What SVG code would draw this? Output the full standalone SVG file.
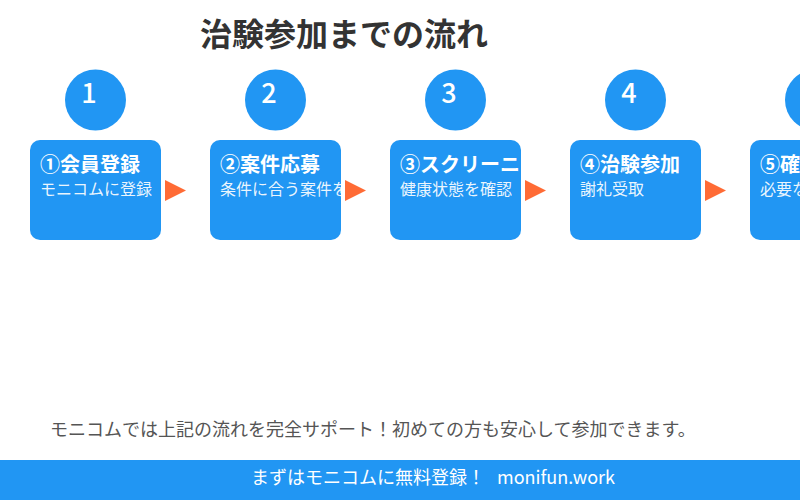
<svg xmlns="http://www.w3.org/2000/svg" width="800" height="500" viewBox="0 0 800 500">
<style>
.jp{font-family:"Noto Sans CJK JP","Noto Sans",sans-serif}
.circ{fill:#2196F3}
.num{font-family:"Noto Sans CJK JP","Noto Sans",sans-serif;font-size:27px;font-weight:500;fill:#fff;text-anchor:middle}
.box{fill:#2196F3}
.ttl{font-size:20px;font-weight:bold;fill:#fff}
.sub{font-size:16px;fill:#fff;fill-opacity:0.92}
.arr{fill:#FF6B35}
</style>
<defs>
<clipPath id="c2"><rect x="210" y="140" width="131" height="100" rx="10"/></clipPath>
</defs>
<rect width="800" height="500" fill="#fff"/>
<text class="jp" x="200" y="46" font-size="32" font-weight="bold" fill="#333">治験参加までの流れ</text>

<g id="step1">
<circle class="circ" cx="95.5" cy="100" r="30.5"/>
<text class="num" x="89" y="102.5">1</text>
<rect class="box" x="30" y="140" width="131" height="100" rx="10"/>
<text class="jp ttl" x="40" y="172">①会員登録</text>
<text class="jp sub" x="40" y="195">モニコムに登録</text>
</g>
<g id="step2">
<circle class="circ" cx="275.5" cy="100" r="30.5"/>
<text class="num" x="269" y="102.5">2</text>
<rect class="box" x="210" y="140" width="131" height="100" rx="10"/>
<g clip-path="url(#c2)">
<text class="jp ttl" x="220" y="172">②案件応募</text>
<text class="jp sub" x="220" y="195">条件に合う案件を</text>
</g>
</g>
<g id="step3">
<circle class="circ" cx="455.5" cy="100" r="30.5"/>
<text class="num" x="449" y="102.5">3</text>
<rect class="box" x="390" y="140" width="131" height="100" rx="10"/>
<text class="jp ttl" x="400" y="172">③スクリーニ</text>
<text class="jp sub" x="400" y="195">健康状態を確認</text>
</g>
<g id="step4">
<circle class="circ" cx="635.5" cy="100" r="30.5"/>
<text class="num" x="629" y="102.5">4</text>
<rect class="box" x="570" y="140" width="131" height="100" rx="10"/>
<text class="jp ttl" x="580" y="172">④治験参加</text>
<text class="jp sub" x="580" y="195">謝礼受取</text>
</g>
<g id="step5">
<circle class="circ" cx="815.5" cy="100" r="30.5"/>
<rect class="box" x="750" y="140" width="131" height="100" rx="10"/>
<text class="jp ttl" x="760" y="172">⑤確</text>
<text class="jp sub" x="760" y="195">必要な</text>
</g>

<g id="connectors">
<polygon class="arr" points="165,180 186,190.5 165,201"/>
<polygon class="arr" points="345,180 366,190.5 345,201"/>
<polygon class="arr" points="525,180 546,190.5 525,201"/>
<polygon class="arr" points="705,180 726,190.5 705,201"/>
</g>

<text class="jp" x="50" y="436" font-size="18" fill="#555">モニコムでは上記の流れを完全サポート！初めての方も安心して参加できます。</text>

<rect x="0" y="460" width="800" height="40" fill="#2196F3"/>
<text class="jp" x="251" y="484" font-size="18" fill="#fff">まずはモニコムに無料登録！<tspan x="497">monifun.work</tspan></text>
</svg>
